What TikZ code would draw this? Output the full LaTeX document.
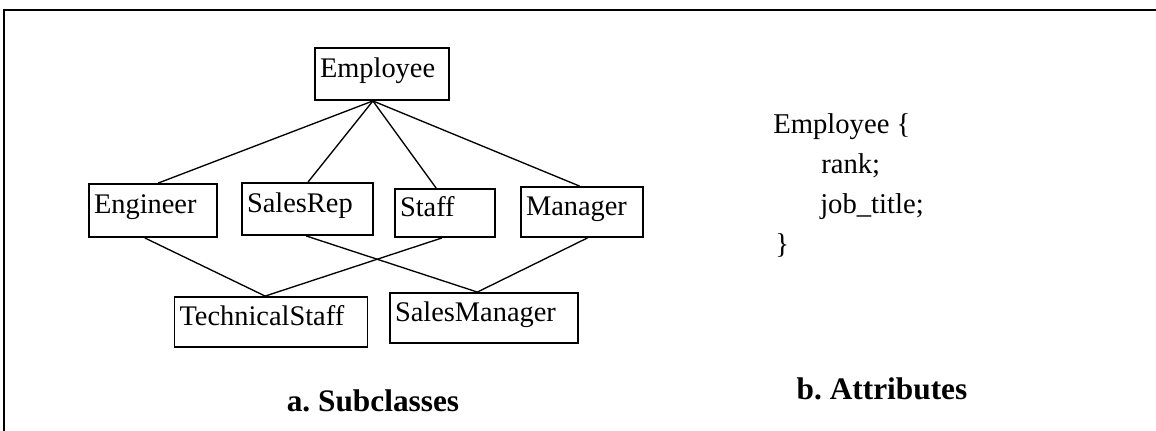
\documentclass[tikz,border=0pt]{standalone}
\usepackage{fontspec}
\setmainfont{Liberation Serif}
\usetikzlibrary{calc}
\frenchspacing
\tikzset{
  cls/.style={draw, line width=1.4pt, rectangle, align=left, inner xsep=3.75pt, inner ysep=0pt,
    font=\fontsize{21.3}{25}\selectfont, text height=0.7em, text depth=0.22em},
  link/.style={line width=1pt},
  attr/.style={anchor=base west, inner sep=0pt, font=\fontsize{21.5}{25}\selectfont},
  caption/.style={anchor=base, inner sep=0pt, font=\fontsize{23.5}{28}\selectfont\bfseries},
  frame/.style={line width=1.5pt}
}
\begin{document}
\begin{tikzpicture}[x=0.75pt,y=-0.75pt]
\useasboundingbox (0,0) rectangle (1156,430);
% frame
\coordinate (fbl) at (4,431);
\coordinate (ftl) at (4,10);
\coordinate (ftr) at (1157,10);
\draw[frame] (fbl) -- (ftl) -- (ftr);

% class boxes
\node[cls, text width=93pt, minimum height=39pt] (emp) at (382,74) {Employee};
\node[cls, text width=88.5pt, minimum height=39.75pt] (eng) at (153,210.5) {Engineer};
\node[cls, text width=90.75pt, minimum height=39pt] (rep) at (307.5,209) {SalesRep};
\node[cls, text width=67.5pt, minimum height=36pt] (stf) at (445,213) {Staff};
\node[cls, text width=84pt, minimum height=37.5pt] (mgr) at (582,212) {Manager};
\node[cls, text width=137.25pt, minimum height=37.5pt] (tec) at (271,322) {TechnicalStaff};
\node[cls, text width=133.5pt, minimum height=37.5pt] (smg) at (484,318) {SalesManager};

% connectors
\coordinate (ep) at ($(emp.south west)!0.433!(emp.south east)$);
\draw[link] (ep) -- ($(eng.north west)!0.54!(eng.north east)$);
\draw[link] (ep) -- ($(rep.north west)!0.504!(rep.north east)$);
\draw[link] (ep) -- ($(stf.north west)!0.413!(stf.north east)$);
\draw[link] (ep) -- ($(mgr.north west)!0.48!(mgr.north east)$);
\draw[link] ($(eng.south west)!0.437!(eng.south east)$) -- ($(tec.north west)!0.47!(tec.north east)$);
\draw[link] ($(stf.south west)!0.47!(stf.south east)$) -- ($(tec.north west)!0.47!(tec.north east)$);
\draw[link] ($(rep.south west)!0.49!(rep.south east)$) -- ($(smg.north west)!0.465!(smg.north east)$);
\draw[link] ($(mgr.south west)!0.544!(mgr.south east)$) -- ($(smg.north west)!0.465!(smg.north east)$);

% attributes
\node[attr] (a1) at (773,133) {Employee \{};
\node[attr] (a2) at (821,173) {rank;};
\node[attr] (a3) at (820,213) {job\_title;};
\node[attr] (a4) at (775,253) {\}};

% captions
\node[caption] (ca) at (373,411) {a. Subclasses};
\node[caption] (cb) at (882,399) {b. Attributes};
\end{tikzpicture}
\end{document}
